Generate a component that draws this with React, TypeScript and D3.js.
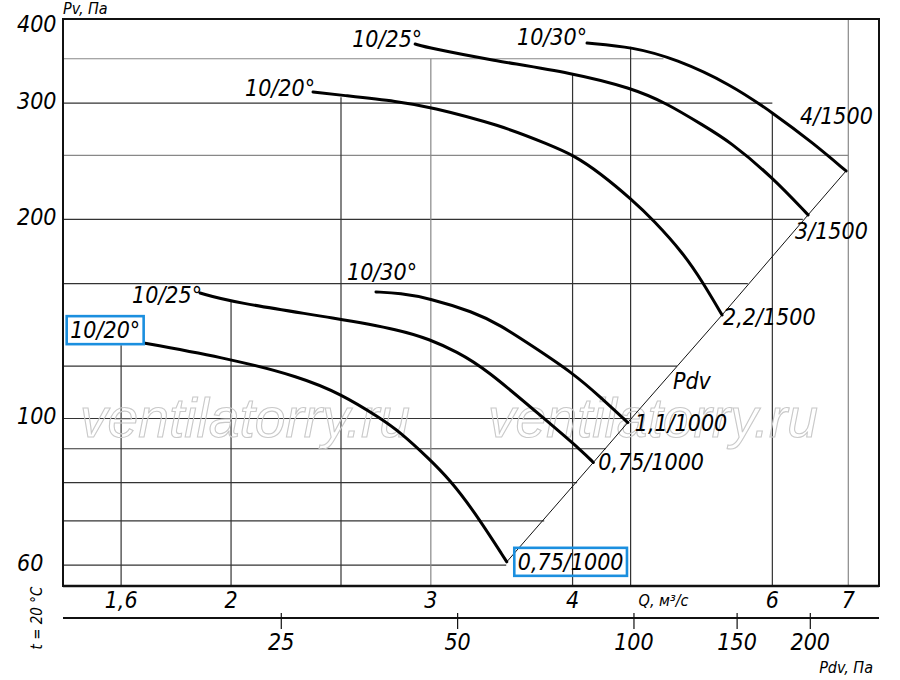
import React, { useEffect, useRef } from "react";
import * as d3 from "d3";

// axis ticks
const qTicks = [1.6, 2, 3, 4, 6, 7];
const pvTicks = [60, 100, 200, 300, 400];
const pdvTicks = [25, 50, 100, 150, 200];

// grid: vertical lines (Q) start at a Pv value, horizontal lines (Pv) stop at a Q value
const qGrid = [1.6, 2, 2.5, 3, 4, 4.5, 6, 7];
const qGridTop = [129, 151, 306, 350, 333, 365, 290, 402];
const pvGrid = [350, 300, 250, 200, 160, 120, 100, 90, 80, 70, 60];
const pvGridEnd = [4.81, 6, 7]; // the others stop at the Pdv line
const lightQ = [3, 7];
const lightPv = [350, 250];

// fan curves, Q m3/s and Pv Pa
const q1000_20 = [1.68, 2.0, 2.3, 2.5, 2.706, 2.818, 2.99, 3.119, 3.27, 3.5];
const pv1000_20 = [130, 123, 115.6, 108.9, 100.2, 95.4, 86.9, 80.7, 72.7, 60.7];
const q1000_25 = [1.878, 2.0, 2.5, 2.818, 2.991, 3.162, 3.349, 3.796, 4.083, 4.172];
const pv1000_25 = [154.8, 150, 141.4, 136.1, 131.8, 126.2, 119.1, 99.2, 89.1, 85.8];
const q1000_30 = [2.684, 2.818, 2.991, 3.27, 3.453, 3.694, 4.006, 4.229, 4.474];
const pv1000_30 = [155.4, 154.7, 152, 145, 138.5, 128.4, 117, 107.9, 98.6];
const q1500_20 = [2.362, 2.495, 2.818, 2.991, 3.453, 3.821, 4.006, 4.229, 4.516, 4.713, 5.009, 5.216, 5.418];
const pv1500_20 = [311.8, 308.5, 301.4, 296.2, 277.9, 259.2, 250.3, 235.2, 214, 199.6, 177.8, 160.2, 143.4];
const q1500_25 = [2.906, 2.99, 3.383, 4.006, 4.516, 4.843, 5.213, 5.507, 5.996, 6.451];
const pv1500_25 = [368.4, 363.4, 348.5, 333, 315.8, 299.7, 277.6, 262.2, 231.9, 203.2];
const q1500_30 = [4.119, 4.522, 4.935, 5.507, 6.009, 6.517, 6.968];
const pv1500_30 = [369.7, 364.6, 349.7, 320.5, 289.8, 261, 236.8];

const curveQ = [q1000_20, q1000_25, q1000_30, q1500_20, q1500_25, q1500_30];
const curvePv = [pv1000_20, pv1000_25, pv1000_30, pv1500_20, pv1500_25, pv1500_30];
const angleLabels = ["10/20°", "10/25°", "10/30°", "10/20°", "10/25°", "10/30°"];
const modelLabels = ["0,75/1000", "0,75/1000", "1,1/1000", "2,2/1500", "3/1500", "4/1500"];
const boxedStart = [true, false, false, false, false, false];
const boxedEnd = [true, false, false, false, false, false];

// label placement relative to curve start / end (px)
const labelOffsets = [
  { sdx: -5, sdy: -5, edx: 11, edy: 8 },
  { sdx: 2, sdy: 10, edx: 5, edy: 8 },
  { sdx: 41, sdy: -12, edx: 7, edy: 8 },
  { sdx: 2, sdy: 4, edx: 1, edy: 10 },
  { sdx: 7, sdy: 3, edx: -13, edy: 24 },
  { sdx: 0, sdy: 2, edx: -46, edy: -47 },
];

const W = 900;
const H = 680;
const font = "'DejaVu Sans Condensed', 'DejaVu Sans', sans-serif";
const blue = "#1b8fdf";

const fmt = (v: number) => String(v).replace(".", ",");

const FanChart = () => {
  const svgRef = useRef<SVGSVGElement>(null);

  useEffect(() => {
    const svg = d3.select(svgRef.current);
    svg.selectAll("*").remove();

    const x = d3.scaleLog().domain([1.422, 7.45]).range([63, 879]);
    const y = d3.scaleLog().domain([55.8, 402]).range([586, 19]);
    const xPdv = d3.scaleLog().domain([10.6, 262]).range([63, 879]);
    const [x0, x1] = x.range();
    const [yBottom, yTop] = y.range();

    svg.append("rect").attr("width", W).attr("height", H).attr("fill", "#fff");

    // Pdv = k * Q^2 through the curve ends
    const ends = curveQ.map((qs, i) => [qs[qs.length - 1], curvePv[i][curvePv[i].length - 1]]);
    const k = d3.mean(ends, (d) => d[1] / (d[0] * d[0])) as number;

    const grid = svg.append("g").attr("stroke-width", 1.2).attr("fill", "none");
    pvGrid.forEach((pv, i) => {
      const endQ = i < pvGridEnd.length ? pvGridEnd[i] : Math.min(Math.sqrt(pv / k), 7);
      grid
        .append("line")
        .attr("x1", x0)
        .attr("x2", x(endQ))
        .attr("y1", y(pv))
        .attr("y2", y(pv))
        .attr("stroke", lightPv.includes(pv) ? "#888" : "#333");
    });
    qGrid.forEach((q, i) => {
      grid
        .append("line")
        .attr("x1", x(q))
        .attr("x2", x(q))
        .attr("y1", y(qGridTop[i]))
        .attr("y2", yBottom)
        .attr("stroke", lightQ.includes(q) ? "#888" : "#333");
    });

    // watermark
    [80, 488].forEach((wx) => {
      svg
        .append("text")
        .attr("x", wx)
        .attr("y", 437)
        .attr("textLength", 330)
        .attr("lengthAdjust", "spacingAndGlyphs")
        .attr("font-family", "'Liberation Sans', Arial, sans-serif")
        .attr("font-style", "italic")
        .attr("font-size", 55)
        .attr("fill", "none")
        .attr("stroke", "#c9c9c9")
        .attr("stroke-width", 1.1)
        .text("ventilatorry.ru");
    });

    // frame
    svg
      .append("rect")
      .attr("x", x0)
      .attr("y", yTop)
      .attr("width", x1 - x0)
      .attr("height", yBottom - yTop)
      .attr("fill", "none")
      .attr("stroke", "#111")
      .attr("stroke-width", 2);
    svg
      .append("line")
      .attr("x1", x0)
      .attr("x2", x1)
      .attr("y1", yBottom)
      .attr("y2", yBottom)
      .attr("stroke", "#111")
      .attr("stroke-width", 2.6);

    // Pdv line
    const line = d3
      .line<number[]>()
      .x((d) => x(d[0]))
      .y((d) => y(d[1]));
    svg
      .append("path")
      .attr("d", line(ends.slice().sort((a, b) => a[0] - b[0])))
      .attr("fill", "none")
      .attr("stroke", "#111")
      .attr("stroke-width", 1);

    // curves
    const curveLine = d3
      .line<number[]>()
      .x((d) => x(d[0]))
      .y((d) => y(d[1]))
      .curve(d3.curveBasis);
    curveQ.forEach((qs, i) => {
      const pts = qs.map((q, j) => [q, curvePv[i][j]]);
      svg
        .append("path")
        .attr("d", curveLine(pts))
        .attr("fill", "none")
        .attr("stroke", "#000")
        .attr("stroke-width", 3)
        .attr("stroke-linecap", "round");
    });

    const label = (tx: number, ty: number, str: string, anchor: string, size = 23) =>
      svg
        .append("text")
        .attr("x", tx)
        .attr("y", ty)
        .attr("text-anchor", anchor)
        .attr("font-family", font)
        .attr("font-style", "italic")
        .attr("font-size", size)
        .attr("fill", "#000")
        .text(str);

    const box = (t: d3.Selection<SVGTextElement, unknown, null, undefined>) => {
      const b = (t.node() as SVGTextElement).getBBox();
      svg
        .append("rect")
        .attr("x", b.x - 3.5)
        .attr("y", b.y - 1)
        .attr("width", b.width + 7)
        .attr("height", b.height + 2)
        .attr("fill", "none")
        .attr("stroke", blue)
        .attr("stroke-width", 2.6);
    };

    curveQ.forEach((qs, i) => {
      const o = labelOffsets[i];
      const sx = x(qs[0]);
      const sy = y(curvePv[i][0]);
      const ex = x(qs[qs.length - 1]);
      const ey = y(curvePv[i][curvePv[i].length - 1]);
      const s = label(sx + o.sdx, sy + o.sdy, angleLabels[i], "end");
      if (boxedStart[i]) box(s);
      const e = label(ex + o.edx, ey + o.edy, modelLabels[i], "start");
      if (boxedEnd[i]) box(e);
    });

    label(673, 389, "Pdv", "start");

    // axes labels
    pvTicks.forEach((v) => label(17, Math.max(y(v) + 6, 32), fmt(v), "start"));
    qTicks.forEach((v) => label(x(v), 608, fmt(v), "middle"));
    label(x(4.5) + 8, 606, "Q, м³/с", "start", 16);
    label(x0, 14, "Pv, Па", "start", 16);

    // Pdv axis
    svg
      .append("line")
      .attr("x1", x0)
      .attr("x2", x1)
      .attr("y1", 618)
      .attr("y2", 618)
      .attr("stroke", "#111")
      .attr("stroke-width", 1.8);
    pdvTicks.forEach((v) => {
      svg
        .append("line")
        .attr("x1", xPdv(v))
        .attr("x2", xPdv(v))
        .attr("y1", 613)
        .attr("y2", 629)
        .attr("stroke", "#111")
        .attr("stroke-width", 1.2);
      label(xPdv(v), 650, fmt(v), "middle");
    });
    label(873, 673, "Pdv, Па", "end", 16);

    svg
      .append("text")
      .attr("transform", "translate(42,618) rotate(-90)")
      .attr("text-anchor", "middle")
      .attr("font-family", font)
      .attr("font-style", "italic")
      .attr("font-size", 15)
      .text("t = 20 °C");
  }, []);

  return (
    <svg
      ref={svgRef}
      width={W}
      height={H}
      style={{ position: "absolute", left: 0, top: 0, display: "block" }}
    />
  );
};

export default function App() {
  return <FanChart />;
}
